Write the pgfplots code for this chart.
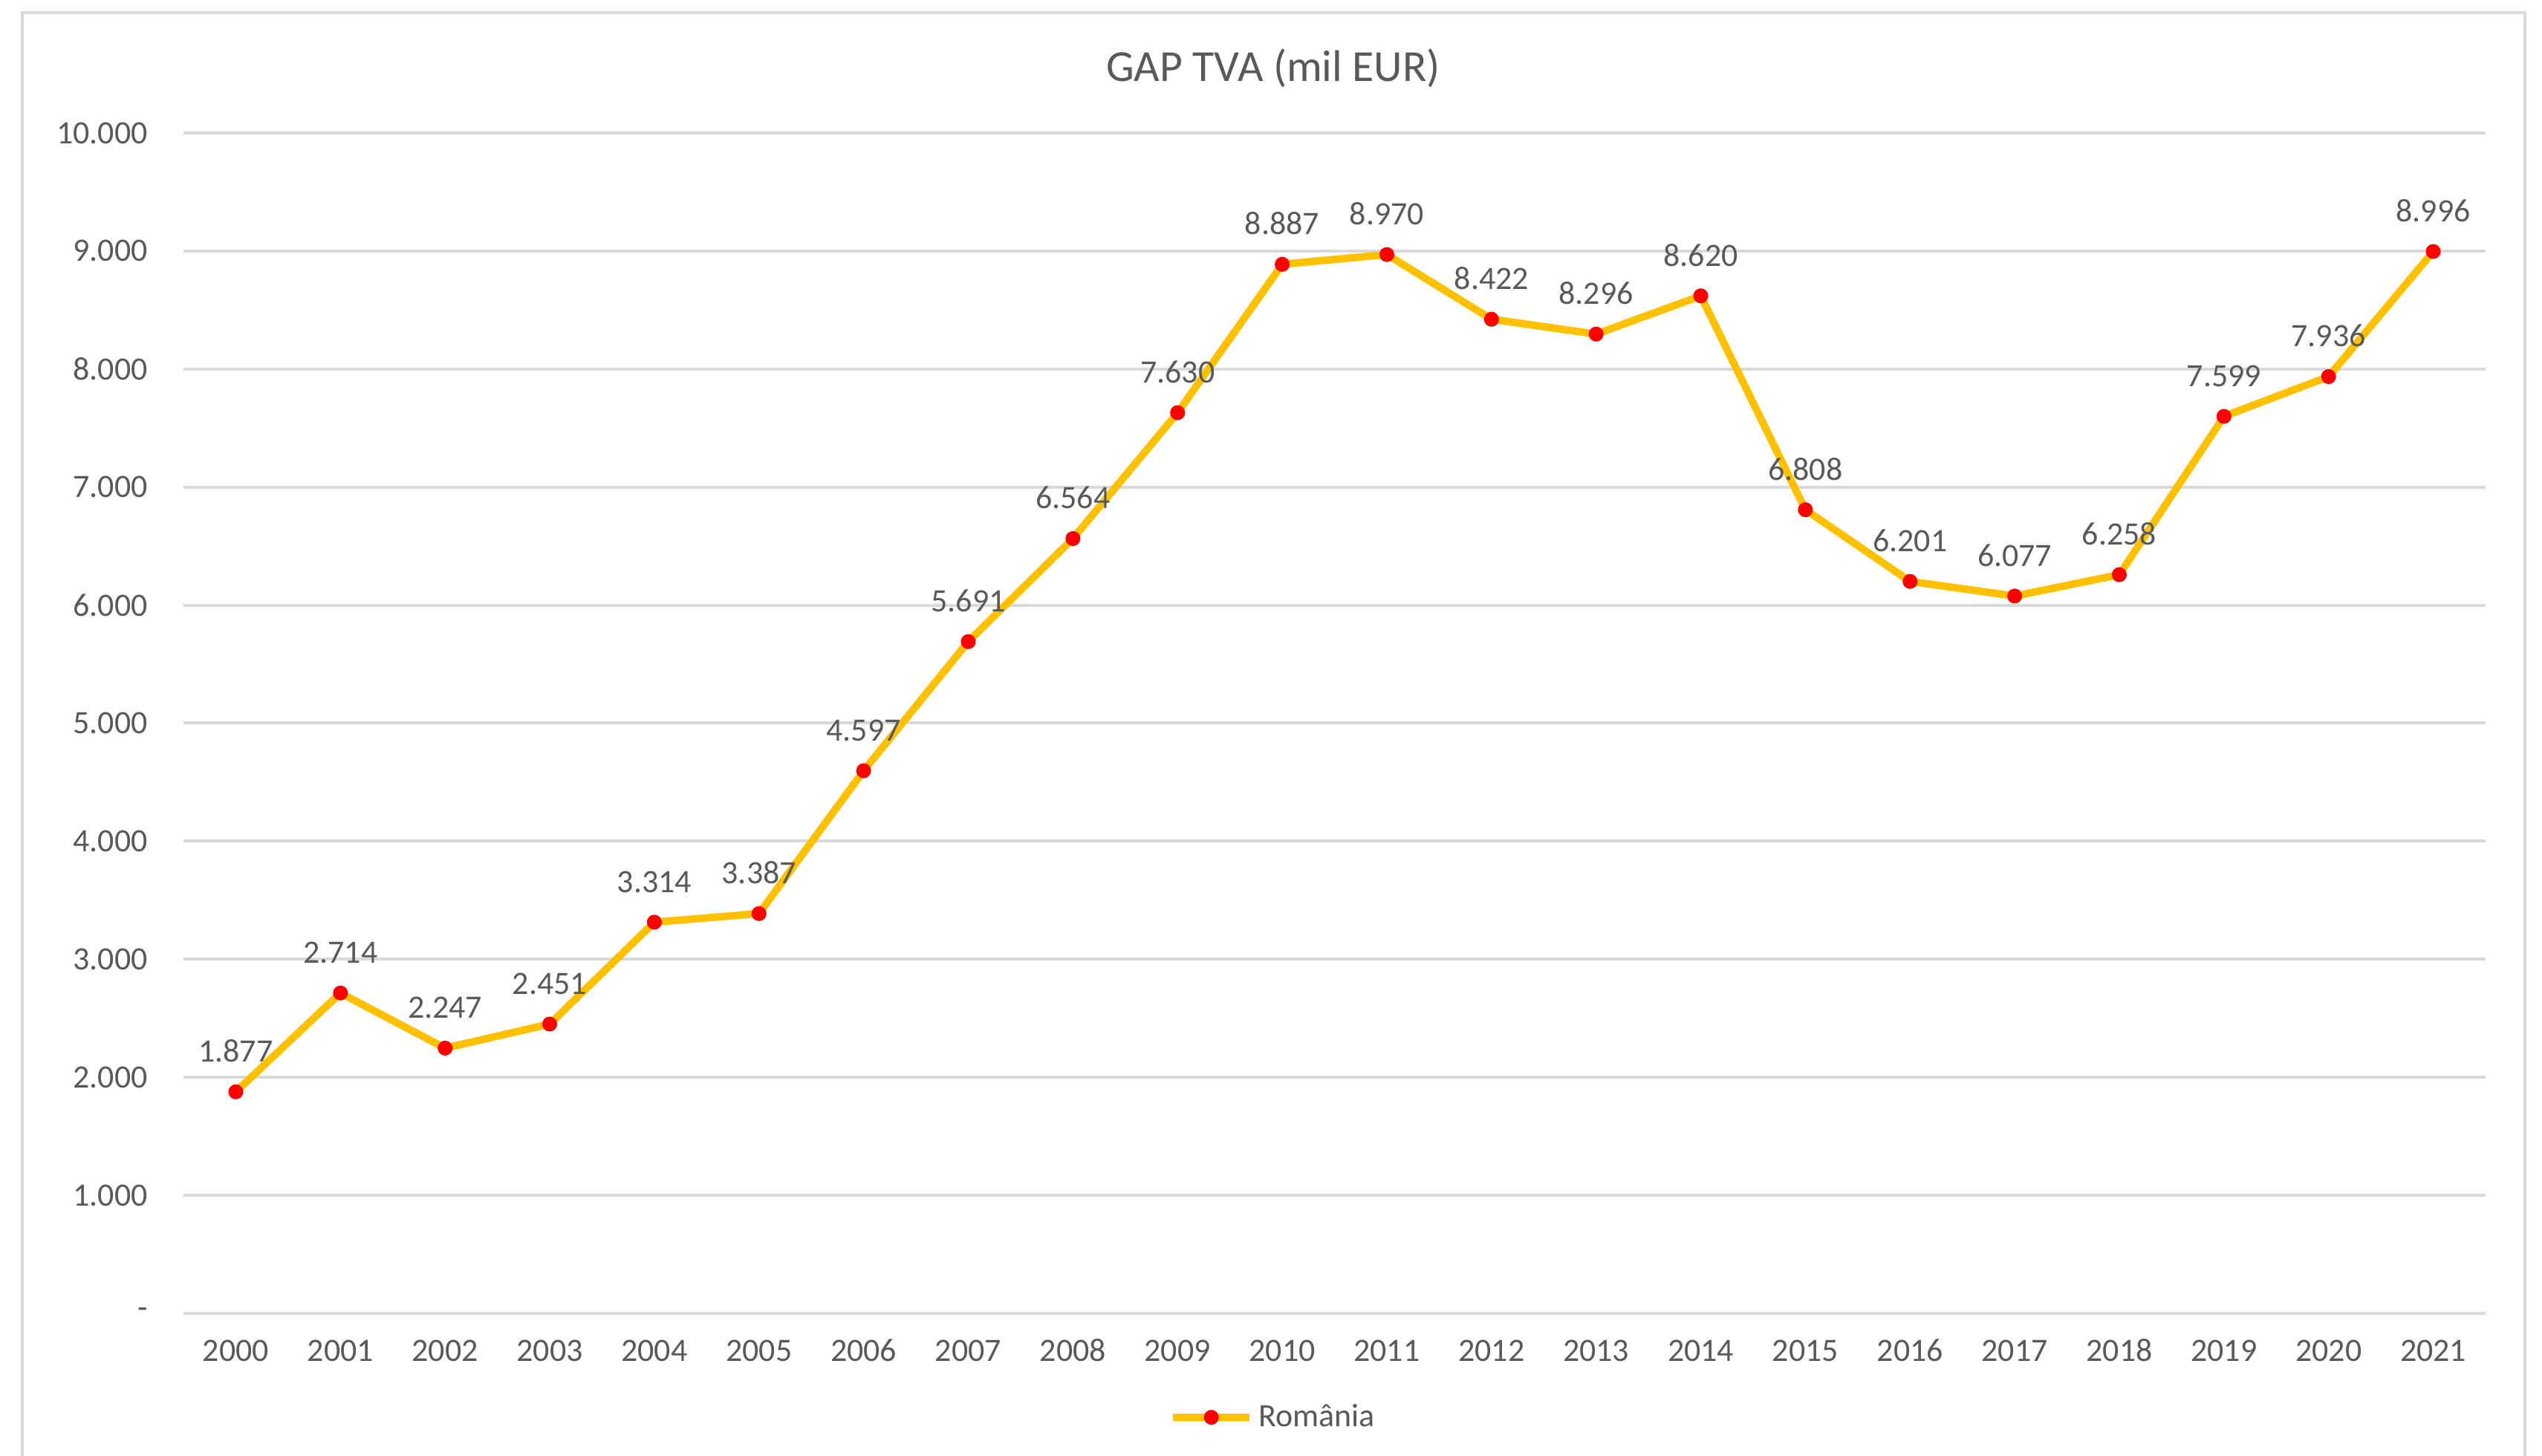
\documentclass[border=0pt]{standalone}
\usepackage{pgfplots}
\pgfplotsset{compat=1.18}
\usepackage{fontspec}
\setmainfont{Carlito}
\definecolor{txt}{HTML}{595959}
\definecolor{grd}{HTML}{D9D9D9}
\definecolor{gold}{HTML}{FFC000}
\begin{document}
\begin{tikzpicture}
\useasboundingbox (0,0) rectangle (342.2mm,196mm);
\draw[grd, line width=0.35mm] (3.0mm,-1mm) -- (3.0mm,194.3mm) -- (339.9mm,194.3mm) -- (339.9mm,-1mm);
\begin{axis}[
  at={(24.7mm,19.2mm)}, anchor=south west,
  scale only axis, width=309.9mm, height=158.9mm,
  xmin=-0.5, xmax=21.5, ymin=0, ymax=10000,
  scaled y ticks=false,
  xtick={0,...,21},
  xticklabels={2000,2001,2002,2003,2004,2005,2006,2007,2008,2009,2010,2011,2012,2013,2014,2015,2016,2017,2018,2019,2020,2021},
  ytick={0,1000,...,10000},
  yticklabels={-\hspace{2.3mm},1.000,2.000,3.000,4.000,5.000,6.000,7.000,8.000,9.000,10.000},
  axis line style={draw=none},
  major tick length=0pt,
  ymajorgrids, grid style={grd, line width=0.4mm},
  tick label style={font=\fontsize{12.5}{14}\selectfont, text=txt},
  yticklabel style={xshift=-3.6mm},
  xticklabel style={anchor=base, yshift=-6.5mm},
  clip=false,
  legend style={draw=none, fill=none, at={(0.474,-0.0881)}, anchor=center,
    font=\fontsize{12.5}{14}\selectfont, text=txt},
  legend image code/.code={\draw[mark repeat=2, mark phase=2, #1] plot coordinates {(0mm,0mm) (5.15mm,0mm) (10.3mm,0mm)};},
]
\addplot[gold, line width=1mm, mark=*, mark size=2.7pt,
  mark options={fill=red, draw=red, line width=0.3pt},
  point meta=explicit symbolic,
  nodes near coords,
  nodes near coords style={font=\fontsize{12.5}{14}\selectfont, text=txt, anchor=base, inner sep=0pt, yshift=4mm}]
table[x=x, y=y, meta=lab] {
x y lab
0 1877 1.877
1 2714 2.714
2 2247 2.247
3 2451 2.451
4 3314 3.314
5 3387 3.387
6 4597 4.597
7 5691 5.691
8 6564 6.564
9 7630 7.630
10 8887 8.887
11 8970 8.970
12 8422 8.422
13 8296 8.296
14 8620 8.620
15 6808 6.808
16 6201 6.201
17 6077 6.077
18 6258 6.258
19 7599 7.599
20 7936 7.936
21 8996 8.996
};
\addlegendentry{România}
\end{axis}
\node[anchor=base, text=txt, font=\fontsize{17}{20}\selectfont] at (171.4mm,185mm) {GAP TVA (mil EUR)};
\end{tikzpicture}
\end{document}
